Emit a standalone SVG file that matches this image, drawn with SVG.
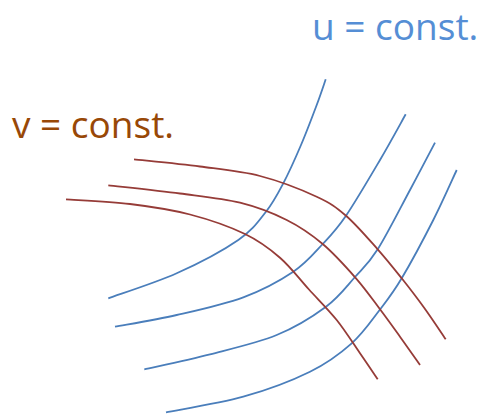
<svg xmlns="http://www.w3.org/2000/svg" width="486" height="415" viewBox="0 0 486 415">
<style>
.lbl{font-family:"Open Sans","Liberation Sans",sans-serif;font-size:37px}
.u{fill:#558ED5}
.v{fill:#984807}
.b{fill:none;stroke:#4A7EBB;stroke-width:1.8;stroke-linecap:butt}
.r{fill:none;stroke:#963C38;stroke-width:1.8;stroke-linecap:butt}
</style>
<rect width="486" height="415" fill="#ffffff"/>
<g id="label-u"><text class="lbl u" x="312" y="40">u = const.</text></g>
<g id="label-v"><text class="lbl v" x="12" y="138">v = const.</text></g>
<g id="connectors">
<path id="u1" class="b" d="M108.3,298.3 C119.7,294.13 155.03,283.02 176.7,273.3 C198.37,263.58 223.42,250.27 238.3,240 C253.18,229.73 258.5,221.15 266,211.7 C273.5,202.25 277.47,194.42 283.3,183.3 C289.13,172.18 295.43,158.05 301,145 C306.57,131.95 312.58,115.95 316.7,105 C320.82,94.05 324.2,83.58 325.7,79.3"/>
<path id="u2" class="b" d="M115,326.7 C125.28,324.75 155.32,319.9 176.7,315 C198.08,310.1 223.87,304.52 243.3,297.3 C262.73,290.08 280.07,280.58 293.3,271.7 C306.53,262.82 313.92,253.33 322.7,244 C331.48,234.67 336.45,229.7 346,215.7 C355.55,201.7 370.05,176.9 380,160 C389.95,143.1 401.42,121.92 405.7,114.3"/>
<path id="u3" class="b" d="M144.3,369.3 C155.25,366.8 187.93,360.02 210,354.3 C232.07,348.58 257.37,342.93 276.7,335 C296.03,327.07 312.95,316.37 326,306.7 C339.05,297.03 346.38,286.57 355,277 C363.62,267.43 368.53,263.8 377.7,249.3 C386.87,234.8 400.45,207.77 410,190 C419.55,172.23 430.83,150.58 435,142.7"/>
<path id="u4" class="b" d="M166,412.3 C178.88,409.7 219.3,403.47 243.3,396.7 C267.3,389.93 291.93,380.6 310,371.7 C328.07,362.8 340.03,353.67 351.7,343.3 C363.37,332.93 371.67,320.33 380,309.5 C388.33,298.67 392.82,293.22 401.7,278.3 C410.58,263.38 424.13,238.05 433.3,220 C442.47,201.95 452.8,178.33 456.7,170"/>
<path id="v1" class="r" d="M134,159.3 C145,160.5 179,163.72 200,166.5 C221,169.28 240.55,170.97 260,176 C279.45,181.03 302.37,190.08 316.7,196.7 C331.03,203.32 335.83,206.93 346,215.7 C356.17,224.47 368.42,238.87 377.7,249.3 C386.98,259.73 393.9,268.47 401.7,278.3 C409.5,288.13 417.17,298.13 424.5,308.3 C431.83,318.47 442.17,334.13 445.7,339.3"/>
<path id="v2" class="r" d="M108.3,185.3 C120.25,186.67 158.05,190.6 180,193.5 C201.95,196.4 222.22,198.28 240,202.7 C257.78,207.12 272.92,213.12 286.7,220 C300.48,226.88 311.15,234.28 322.7,244 C334.25,253.72 346.45,267.42 356,278.3 C365.55,289.18 372.67,299.57 380,309.3 C387.33,319.03 393.33,327.42 400,336.7 C406.67,345.98 416.67,360.28 420,365"/>
<path id="v3" class="r" d="M66,199.3 C76.67,200.08 109.33,201.47 130,204 C150.67,206.53 170.83,209.5 190,214.5 C209.17,219.5 230,226.8 245,234 C260,241.2 269.33,248.45 280,257.7 C290.67,266.95 299.55,279.12 309,289.5 C318.45,299.88 328.2,309.37 336.7,320 C345.2,330.63 353.17,343.42 360,353.3 C366.83,363.18 374.75,374.97 377.7,379.3"/>
</g>
</svg>
